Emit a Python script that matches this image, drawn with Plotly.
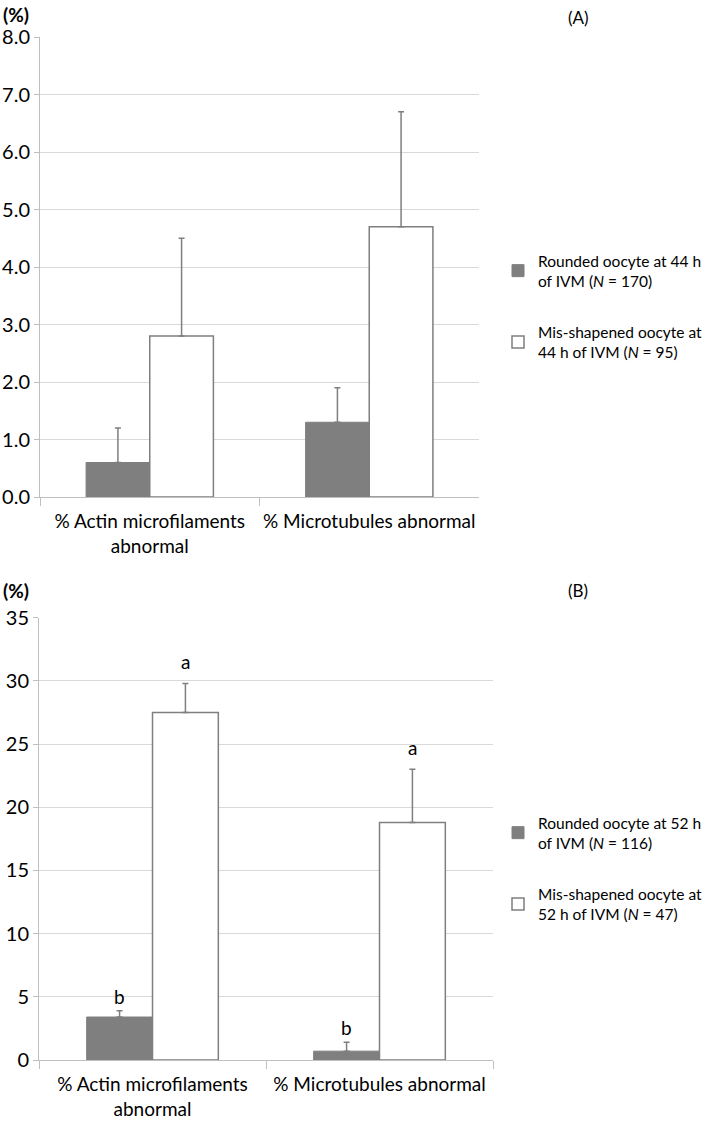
import plotly.graph_objects as go
from plotly.subplots import make_subplots

categories = ["% Actin microfilaments<br>abnormal", "% Microtubules abnormal"]

# Panel A (44 h IVM)
a_rounded = [0.6, 1.3]
a_rounded_err = [0.6, 0.6]
a_mis = [2.8, 4.7]
a_mis_err = [1.7, 2.0]
a_names = ["Rounded oocyte at 44 h<br>of IVM (<i>N</i> = 170)",
           "Mis-shapened oocyte at<br>44 h of IVM (<i>N</i> = 95)"]

# Panel B (52 h IVM)
b_rounded = [3.4, 0.7]
b_rounded_err = [0.5, 0.7]
b_mis = [27.5, 18.8]
b_mis_err = [2.3, 4.2]
b_rounded_labels = ["b", "b"]
b_mis_labels = ["a", "a"]
b_names = ["Rounded oocyte at 52 h<br>of IVM (<i>N</i> = 116)",
           "Mis-shapened oocyte at<br>52 h of IVM (<i>N</i> = 47)"]

FONT = "Lato"
GRAY = "#7f7f7f"
GRID = "#d9d9d9"
AXIS = "#bfbfbf"
BAR_W = 0.29
W, H = 709, 1123  # body margin removed by post_script


def px(x):
    return x / W


def py(y):
    return 1 - y / H


fig = make_subplots(rows=2, cols=1)


def add_pair(row, rounded, rerr, mis, merr, names, legend):
    fig.add_trace(go.Bar(
        x=categories, y=rounded, name=names[0], legend=legend, legendgroup=legend + "r",
        marker=dict(color=GRAY, line=dict(color=GRAY, width=1)),
        error_y=dict(type="data", array=rerr, arrayminus=[0] * len(rerr), symmetric=False,
                     color=GRAY, thickness=1.5, width=3),
    ), row=row, col=1)
    fig.add_trace(go.Bar(
        x=categories, y=mis, name=names[1], legend=legend, legendgroup=legend + "m",
        marker=dict(color="white", line=dict(color=GRAY, width=1.5)),
        error_y=dict(type="data", array=merr, arrayminus=[0] * len(merr), symmetric=False,
                     color=GRAY, thickness=1.5, width=3),
    ), row=row, col=1)


add_pair(1, a_rounded, a_rounded_err, a_mis, a_mis_err, a_names, "legend")
add_pair(2, b_rounded, b_rounded_err, b_mis, b_mis_err, b_names, "legend2")

# significance letters above error bars (panel B)
for i in range(len(categories)):
    fig.add_annotation(x=i - BAR_W / 2, y=b_rounded[i] + b_rounded_err[i], xref="x2", yref="y2",
                       text=b_rounded_labels[i], showarrow=False, yanchor="bottom", yshift=1,
                       font=dict(family=FONT, size=19, color="black"))
    fig.add_annotation(x=i + BAR_W / 2, y=b_mis[i] + b_mis_err[i], xref="x2", yref="y2",
                       text=b_mis_labels[i], showarrow=False, yanchor="bottom", yshift=8,
                       font=dict(family=FONT, size=19, color="black"))

# panel labels
for txt, y in [("(%)", 14), ("(%)", 590)]:
    fig.add_annotation(x=px(1), y=py(y), xref="paper", yref="paper", text="<b>" + txt + "</b>",
                       showarrow=False, xanchor="left", yanchor="middle",
                       font=dict(family=FONT, size=19, color="black"))
for txt, y in [("(A)", 18), ("(B)", 590)]:
    fig.add_annotation(x=px(578), y=py(y), xref="paper", yref="paper", text=txt,
                       showarrow=False, xanchor="center", yanchor="middle",
                       font=dict(family=FONT, size=17, color="black"))

xax = dict(type="category", showline=True, linecolor=AXIS, linewidth=1, ticks="outside",
           tickson="boundaries", ticklen=8, tickcolor=AXIS, showgrid=False, automargin=False,
           ticklabelstandoff=7,
           tickfont=dict(family=FONT, size=19, color="black"), fixedrange=True)
yax = dict(showline=True, linecolor=AXIS, linewidth=1, ticks="outside", ticklen=5,
           tickcolor=AXIS, showgrid=True, gridcolor=GRID, gridwidth=1, zeroline=False,
           automargin=False, tickfont=dict(family=FONT, size=20, color="black"))

legend_common = dict(xanchor="left", yanchor="top", font=dict(family=FONT, size=15.5, color="black"),
                     tracegroupgap=28, bgcolor="rgba(0,0,0,0)", itemwidth=30)

fig.update_layout(
    width=W, height=H,
    margin=dict(l=0, r=0, t=0, b=0, autoexpand=False),
    paper_bgcolor="white", plot_bgcolor="white",
    barmode="group", bargap=0.42, bargroupgap=0,
    font=dict(family=FONT, color="black"),
    xaxis=dict(xax, domain=[px(40), px(479)]),
    xaxis2=dict(xax, domain=[px(39), px(493)]),
    yaxis=dict(yax, domain=[py(497), py(37)], range=[0, 8], dtick=1, tickformat=".1f"),
    yaxis2=dict(yax, domain=[py(1060), py(617.7)], range=[0, 35], dtick=5),
    legend=dict(legend_common, x=px(498), y=py(244)),
    legend2=dict(legend_common, x=px(498), y=py(806)),
    showlegend=True,
)

fig.write_html("out.html", config={"displayModeBar": False},
               post_script="document.body.style.margin='0';")
